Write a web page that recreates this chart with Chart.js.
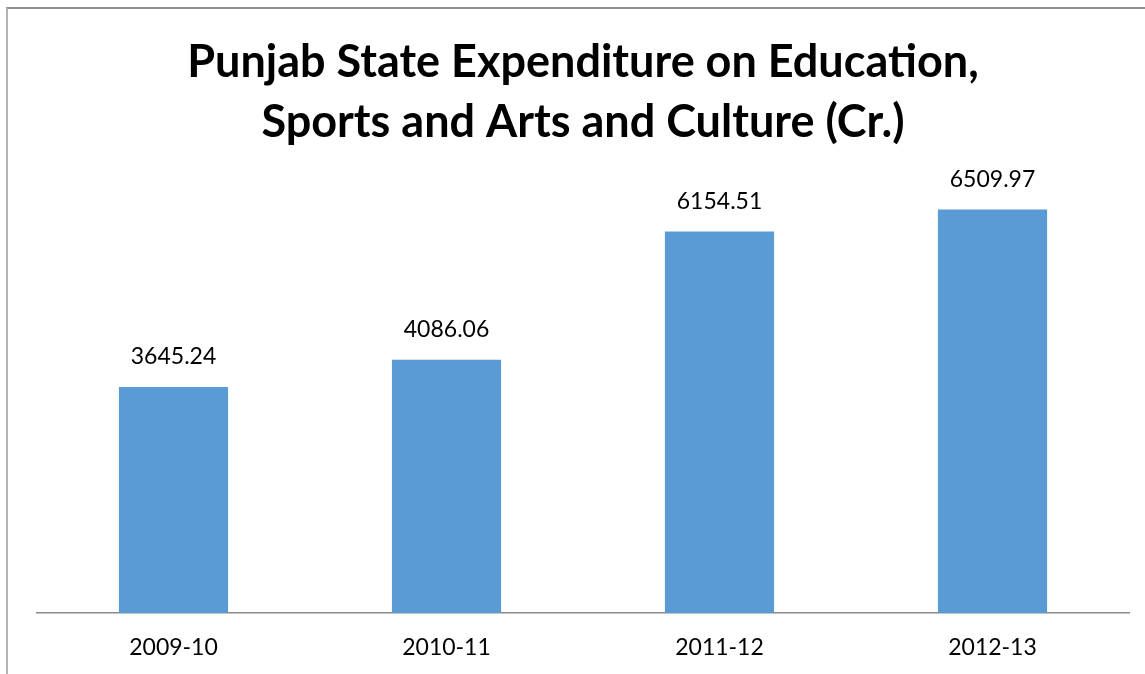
<!DOCTYPE html>
<html>
<head>
<meta charset="utf-8">
<script src="https://cdn.jsdelivr.net/npm/chart.js@4/dist/chart.umd.min.js"></script>
<style>
    html, body { margin: 0; padding: 0; background: #ffffff; }
    #wrap { position: relative; width: 1145px; height: 674px; overflow: hidden; }
    #frame { position: absolute; left: 6px; top: 7px; width: 1200px; height: 700px;
             border-left: 2px solid #b4b4b4; border-top: 2px solid #8e8e8e; }
    #grafico { position: absolute; left: 0; top: 0; }
</style>
</head>
<body>
<div id="wrap">
    <div id="frame"></div>
    <canvas id="grafico" width="1145" height="674"></canvas>
</div>
<script>
// Dados
var anos = ['2009-10', '2010-11', '2011-12', '2012-13'];
var gastos = [3645.24, 4086.06, 6154.51, 6509.97];
var tituloLinhas = ['Punjab State Expenditure on Education,', 'Sports and Arts and Culture (Cr.)'];
var eixoMax = 7000;

var FONTE = 'Lato, Calibri, "Open Sans", sans-serif';

// Rótulos de valor acima de cada barra
var rotulosValor = {
    id: 'rotulosValor',
    afterDatasetsDraw: function (chart) {
        var ctx = chart.ctx;
        var meta = chart.getDatasetMeta(0);
        ctx.save();
        ctx.font = '23px ' + FONTE;
        ctx.fillStyle = '#000000';
        ctx.textAlign = 'center';
        ctx.textBaseline = 'middle';
        meta.data.forEach(function (bar, i) {
            ctx.fillText(gastos[i].toFixed(2), bar.x, bar.y - 30);
        });
        ctx.restore();
    }
};

var ctx = document.getElementById('grafico').getContext('2d');
new Chart(ctx, {
    type: 'bar',
    data: {
        labels: anos,
        datasets: [{
            data: gastos,
            backgroundColor: '#5b9bd5',
            borderWidth: 0,
            categoryPercentage: 1,
            barPercentage: 0.4
        }]
    },
    options: {
        responsive: false,
        animation: false,
        layout: { padding: { left: 37, right: 16, top: 0, bottom: 12 } },
        plugins: {
            legend: { display: false },
            tooltip: { enabled: false },
            title: {
                display: true,
                text: tituloLinhas,
                color: '#000000',
                font: { family: FONTE, size: 45, weight: 'bold', lineHeight: 60 / 45 },
                padding: { top: 32, bottom: 27 }
            }
        },
        scales: {
            y: { display: false, min: 0, max: eixoMax },
            x: {
                grid: { display: true, drawOnChartArea: false, drawTicks: false, color: 'rgba(0,0,0,0)' },
                border: { display: true, color: '#8a8a8a', width: 1.5 },
                ticks: { color: '#000000', padding: 21, font: { family: FONTE, size: 23 } },
                afterFit: function (escala) { escala.height = 49; }
            }
        }
    },
    plugins: [rotulosValor]
});
</script>
</body>
</html>
